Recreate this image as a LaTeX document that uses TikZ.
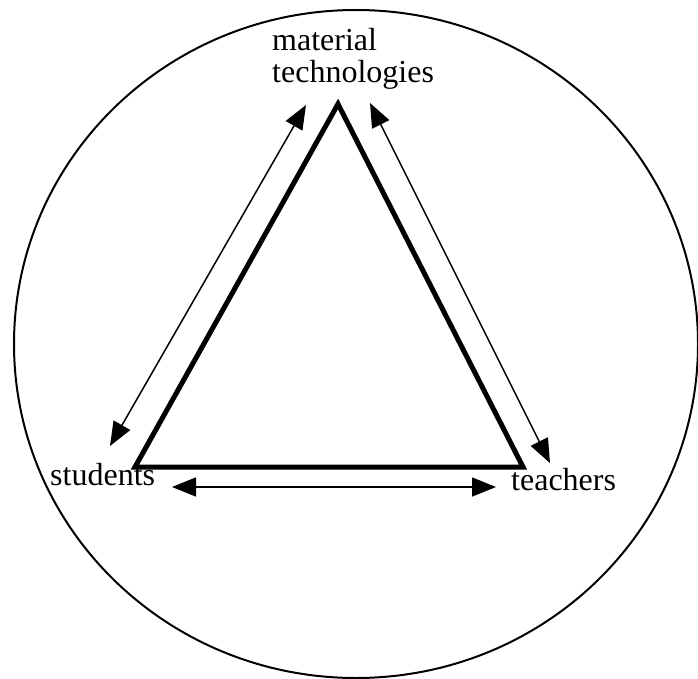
\documentclass[tikz,border=0pt]{standalone}
\usepackage{fontspec}
\setmainfont{Liberation Serif}
\usepackage{tikz}
\usetikzlibrary{arrows.meta}

\begin{document}
\begin{tikzpicture}[x=1pt, y=-1pt,
		label/.style={inner sep=0, font=\fontsize{32}{32}\selectfont},
		link/.style={line width=1.5pt, {Triangle[length=24pt, width=19pt]}-{Triangle[length=24pt, width=19pt]}}]
			\useasboundingbox (0, 0) rectangle (698, 679);
			% Surrounding circle
			\draw[line width=2pt] (356, 344) ellipse [x radius=342, y radius=334];
			% Corners of the triangle
			\coordinate (top) at (338, 104);
			\coordinate (left) at (135, 467);
			\coordinate (right) at (523, 467);
			\draw[line width=5pt, line join=miter] (top) -- (left) -- (right) -- cycle;
			% Labels
			\node[label, anchor=north west, align=left] (mat) at (272, 28) {material\\technologies};
			\node[label, anchor=base west] (stu) at (50, 485) {students};
			\node[label, anchor=base west] (tea) at (511, 490) {teachers};
			% Arrow ends
			\coordinate (a1) at (306, 105);
			\coordinate (a2) at (110, 446);
			\coordinate (b1) at (370, 103);
			\coordinate (b2) at (550, 463);
			\coordinate (c1) at (172, 487);
			\coordinate (c2) at (496, 487);
			% Arrows
			\draw[link] (a1) -- (a2);
			\draw[link] (b1) -- (b2);
			\draw[link] (c1) -- (c2);
		\end{tikzpicture}
\end{document}
